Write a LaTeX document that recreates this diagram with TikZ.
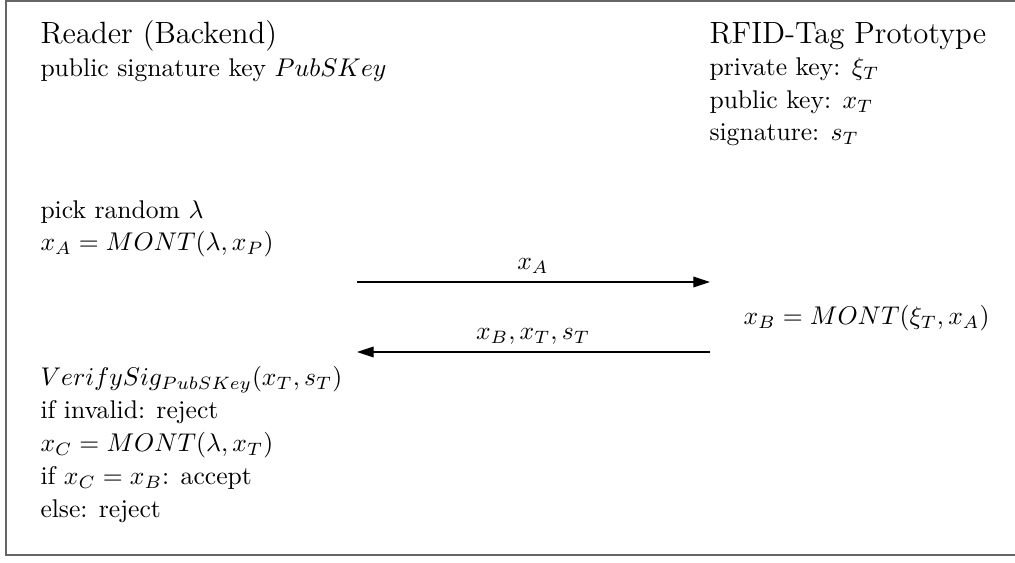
\documentclass[tikz,border=0pt]{standalone}
\usepackage{amsmath}
\usetikzlibrary{arrows.meta}
\tikzset{
  >={Triangle[length=6.5pt,width=4.2pt]},
  party/.style ={font=\large,inner sep=0pt,anchor=base west},
  info/.style  ={align=left,inner sep=0pt,anchor=base west,
                 execute at begin node={\setlength{\baselineskip}{12.8pt}}},
  msg/.style   ={->,draw=black,line width=0.45pt},
  msglbl/.style={inner sep=0pt,anchor=base},
  frame/.style ={draw=black!60,line width=0.55pt},
}

\begin{document}
\begin{tikzpicture}[x=0.3906pt,y=-0.3906pt]
\useasboundingbox (0,0) rectangle (1015,563);
\draw[frame] (1040,1) -- (6,1) -- (6,555) -- (1040,555);
% the two parties (base = last line)
\node[party] (reader) at (40,44) {Reader (Backend)};
\node[info] (rkey) at (40,77) {public signature key $PubSKey$};
\node[party] (tag) at (709,44) {RFID-Tag Prototype};
\node[info] (tkey) at (709,141) {private key: $\xi_T$\\ public key: $x_T$\\ signature: $s_T$};
% protocol steps
\node[info] (pick) at (40,251) {pick random $\lambda$\\ $x_A = MONT(\lambda,x_P)$};
\node[info] (resp) at (743,325) {$x_B = MONT(\xi_T,x_A)$};
\node[info] (check) at (40,517) {$VerifySig_{PubSKey}(x_T,s_T)$\\ if invalid: reject\\
  $x_C = MONT(\lambda,x_T)$\\ if $x_C = x_B$: accept\\ else: reject};
% messages
\coordinate (reqL) at (357,282);
\coordinate (reqR) at (710,282);
\coordinate (ansL) at (357,352);
\coordinate (ansR) at (710,352);
\draw[msg] (reqL) -- (reqR);
\draw[msg] (ansR) -- (ansL);
\node[msglbl] (xa) at (533,270) {$x_A$};
\node[msglbl] (xbts) at (533,340) {$x_B,x_T,s_T$};
\end{tikzpicture}
\end{document}
